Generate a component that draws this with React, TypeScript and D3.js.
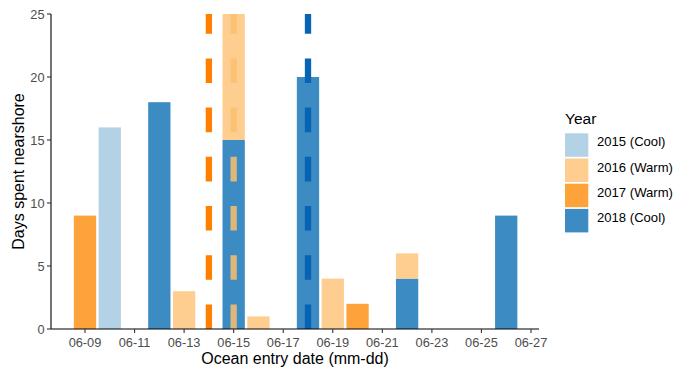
import React from "react";
import * as d3 from "d3";

const years = ["2015 (Cool)", "2016 (Warm)", "2017 (Warm)", "2018 (Cool)"];
const barColors = ["#B3D2E6", "#FECE91", "#FEA33A", "#3C8BC2"];
const lineColors = ["#A6CEE3", "#FDBF6F", "#FF7F00", "#0763B3"];

// day offset from 06-09, year index, days nearshore
const barDays = [0, 1, 3, 4, 6, 6, 7, 9, 10, 11, 13, 13, 17];
const barYears = [2, 0, 3, 1, 3, 1, 1, 3, 1, 2, 3, 1, 3];
const barValues = [9, 16, 18, 3, 15, 10, 1, 20, 4, 2, 4, 2, 9];

// mean entry dates (dashed lines)
const meanDays = [5, 6, 9];
const meanYears = [2, 1, 3];

const tickDays = [0, 2, 4, 6, 8, 10, 12, 14, 16, 18];
const tickLabels = ["06-09", "06-11", "06-13", "06-15", "06-17", "06-19", "06-21", "06-23", "06-25", "06-27"];
const yTicks = [0, 5, 10, 15, 20, 25];

export default function App() {
  const W = 673, H = 371;
  const left = 51, right = 539, top = 14, bottom = 329;
  const x = d3.scaleLinear().domain([-1.372, 18.323]).range([left, right]);
  const y = d3.scaleLinear().domain([0, 25]).range([bottom, top]);
  const bw = (x(1) - x(0)) * 0.9;

  // stacking: 2018 bottom, then 2017, 2016, 2015 on top
  const order = [3, 2, 1, 0];
  const idx = barDays.map((_, i) => i).sort((a, b) => {
    if (barDays[a] !== barDays[b]) return barDays[a] - barDays[b];
    return order.indexOf(barYears[a]) - order.indexOf(barYears[b]);
  });
  const base: Record<number, number> = {};
  const rects = idx.map((i) => {
    const d = barDays[i];
    const b0 = base[d] || 0;
    base[d] = b0 + barValues[i];
    return { i, d, y0: b0, y1: b0 + barValues[i] };
  });

  const font = "'Liberation Sans', Arial, sans-serif";

  return (
    <svg width={W} height={H} style={{ position: "absolute", left: 0, top: 0, background: "#fff" }} fontFamily={font}>
      {rects.map((r) => (
        <rect
          key={r.i}
          x={x(r.d) - bw / 2}
          y={y(r.y1)}
          width={bw}
          height={y(r.y0) - y(r.y1)}
          fill={barColors[barYears[r.i]]}
        />
      ))}
      {meanDays.map((d, i) => (
        <line
          key={i}
          x1={x(d)}
          x2={x(d)}
          y1={y(0)}
          y2={y(25)}
          stroke={lineColors[meanYears[i]]}
          strokeWidth={6.3}
          strokeDasharray="24.6 24.6"
          opacity={meanYears[i] === 1 ? 0.85 : 1}
        />
      ))}
      {/* axes */}
      <line x1={left} x2={left} y1={top} y2={bottom} stroke="#000" strokeWidth={1.1} />
      <line x1={left} x2={right} y1={bottom} y2={bottom} stroke="#000" strokeWidth={1.1} />
      {yTicks.map((t) => (
        <g key={t}>
          <line x1={left - 4} x2={left} y1={y(t)} y2={y(t)} stroke="#333" strokeWidth={1.1} />
          <text x={left - 6.5} y={y(t)} dy="0.36em" textAnchor="end" fontSize={12.8} fill="#4D4D4D">
            {t}
          </text>
        </g>
      ))}
      {tickDays.map((t, i) => (
        <g key={t}>
          <line x1={x(t)} x2={x(t)} y1={bottom} y2={bottom + 4} stroke="#333" strokeWidth={1.1} />
          <text x={x(t)} y={bottom + 17.5} textAnchor="middle" fontSize={12.8} fill="#4D4D4D">
            {tickLabels[i]}
          </text>
        </g>
      ))}
      <text x={(left + right) / 2} y={364} textAnchor="middle" fontSize={16} fill="#000">
        Ocean entry date (mm-dd)
      </text>
      <text
        transform={`translate(24,${(top + bottom) / 2}) rotate(-90)`}
        textAnchor="middle"
        fontSize={16}
        fill="#000"
      >
        Days spent nearshore
      </text>
      {/* legend */}
      <text x={565} y={124.3} fontSize={15.5} fill="#000">
        Year
      </text>
      {years.map((yr, i) => (
        <g key={yr}>
          <rect x={565} y={133.3 + i * 25.2} width={23.3} height={23.5} fill={barColors[i]} />
          <text x={597} y={146.3 + i * 25.2} fontSize={13.1} fill="#000">
            {yr}
          </text>
        </g>
      ))}
    </svg>
  );
}
